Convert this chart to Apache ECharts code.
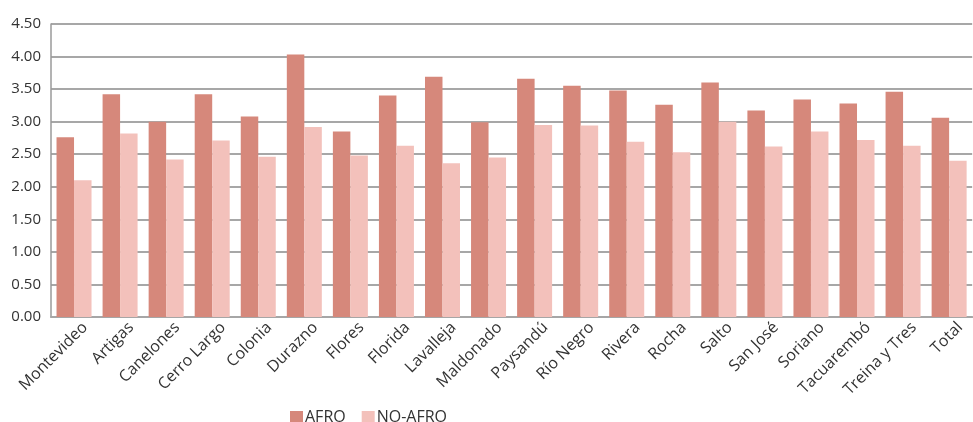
<!DOCTYPE html>
<html>
<head>
<meta charset="utf-8">
<script src="https://cdn.jsdelivr.net/npm/echarts@6/dist/echarts.min.js"></script>
<style>
html,body{margin:0;padding:0;background:#fff;}
#chart{width:973px;height:422px;}
</style>
</head>
<body>
<div id="chart"></div>
<script>
const categories = ["Montevideo","Artigas","Canelones","Cerro Largo","Colonia","Durazno","Flores","Florida","Lavalleja","Maldonado","Paysandú","Río Negro","Rivera","Rocha","Salto","San José","Soriano","Tacuarembó","Treina y Tres","Total"];
const afro =    [2.76,3.42,3.00,3.42,3.08,4.03,2.85,3.40,3.69,2.99,3.66,3.55,3.48,3.26,3.60,3.17,3.34,3.28,3.46,3.06];
const noAfro =  [2.10,2.82,2.42,2.71,2.46,2.92,2.48,2.63,2.36,2.45,2.95,2.94,2.69,2.53,3.00,2.62,2.85,2.72,2.63,2.40];
const seriesNames = ["AFRO","NO-AFRO"];

const FONT = "Open Sans";
const chart = echarts.init(document.getElementById('chart'), null, {renderer:'canvas'});
chart.setOption({
  animation:false,
  backgroundColor:'#fff',
  textStyle:{fontFamily:FONT},
  grid:{left:51, top:24, width:928, height:293},
  legend:{
    data:seriesNames, left:290, top:409, padding:0, itemWidth:13, itemHeight:12, itemGap:16,
    icon:'rect',
    textStyle:{fontFamily:FONT, fontSize:16, color:'#333', padding:[0,0,0,-3]}
  },
  xAxis:{
    type:'category', data:categories,
    axisTick:{show:false},
    axisLine:{show:true, lineStyle:{color:'#a6a6a6', width:2}},
    axisLabel:{interval:0, rotate:45, fontSize:16, color:'#333', fontFamily:FONT,
      margin:-3, align:'right', verticalAlign:'top', lineHeight:31}
  },
  yAxis:{
    type:'value', min:0, max:4.5, interval:0.5,
    axisLine:{show:true, lineStyle:{color:'#9a9a9a', width:1.5}},
    axisTick:{show:false},
    axisLabel:{fontSize:15, color:'#333', fontFamily:FONT, margin:10, formatter:v=>v.toFixed(2)},
    splitLine:{show:true, lineStyle:{color:'#8a8a8a', width:1.5}}
  },
  series:[
    {name:seriesNames[0], type:'bar', data:afro, barWidth:17.5, barGap:'0%', itemStyle:{color:'#D6887B'}},
    {name:seriesNames[1], type:'bar', data:noAfro, barWidth:17.5, barGap:'0%', itemStyle:{color:'#F3C1BB'}}
  ]
});
</script>
</body>
</html>
